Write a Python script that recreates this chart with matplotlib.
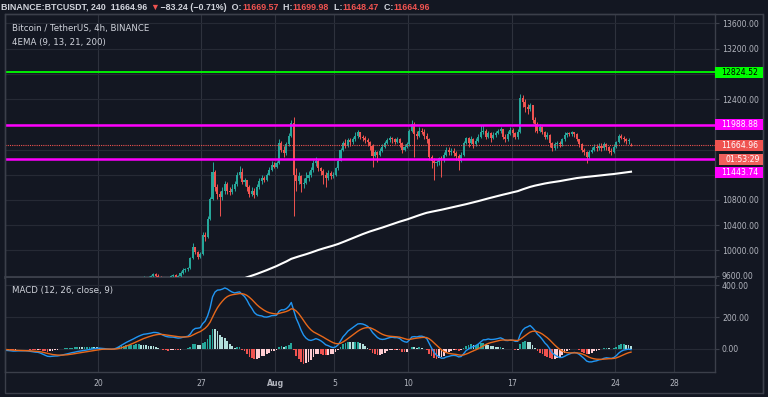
import numpy as np
import pandas as pd
import matplotlib.pyplot as plt
from matplotlib.patches import Rectangle
from matplotlib.lines import Line2D

BG = "#131722"
GRID = "#262a35"
VGRID = "#2e323d"
FRAME = "#3b3f4a"
TXT = "#b2b5be"
HEAD = "#d1d4dc"
UP = "#26a69a"
DOWN = "#ef5350"

# 4h candles, first bar starts Jul 13 00:00 (x axis = day of July, Aug 1 = 32)
first_day = 13
first_open = 9300
last_open = 11669.57

closes = [
    9290, 9270, 9260, 9250, 9240, 9250,        # Jul 13
    9240, 9230, 9250, 9260, 9250, 9250,        # Jul 14
    9240, 9230, 9210, 9200, 9190, 9200,        # Jul 15
    9150, 9100, 9080, 9060, 9100, 9130,        # Jul 16
    9120, 9110, 9130, 9140, 9150, 9150,        # Jul 17
    9160, 9170, 9160, 9180, 9170, 9170,        # Jul 18
    9180, 9190, 9200, 9210, 9200, 9210,        # Jul 19
    9200, 9180, 9170, 9160, 9170, 9160,        # Jul 20
    9200, 9250, 9300, 9340, 9360, 9390,        # Jul 21
    9400, 9430, 9460, 9500, 9520, 9540,        # Jul 22
    9560, 9540, 9570, 9590, 9630, 9600,        # Jul 23
    9580, 9540, 9520, 9530, 9560, 9590,        # Jul 24
    9610, 9580, 9590, 9640, 9690, 9700,        # Jul 25
    9720, 9880, 10050, 9970, 9900, 9940,       # Jul 26
    10250, 10220, 10500, 10820, 11250, 11000,  # Jul 27
    10900, 10850, 10950, 11050, 10950, 10930,  # Jul 28
    10980, 11050, 11200, 11250, 11080, 11110,  # Jul 29
    11000, 10900, 10950, 10880, 11000, 11100,  # Jul 30
    11150, 11120, 11200, 11280, 11350, 11330,  # Jul 31
    11380, 11700, 11600, 11550, 11680, 11820,  # Aug 1
    12020, 11200, 11100, 11180, 11050, 11070,  # Aug 2
    11150, 11200, 11280, 11380, 11420, 11300,  # Aug 3
    11260, 11200, 11150, 11220, 11180, 11200,  # Aug 4
    11300, 11420, 11600, 11700, 11660, 11750,  # Aug 5
    11720, 11760, 11820, 11870, 11800, 11780,  # Aug 6
    11750, 11720, 11650, 11500, 11560, 11520,  # Aug 7
    11580, 11640, 11700, 11750, 11780, 11760,  # Aug 8
    11720, 11760, 11700, 11600, 11640, 11680,  # Aug 9
    11900, 12000, 11850, 11820, 11900, 11880,  # Aug 10
    11820, 11760, 11480, 11420, 11380, 11400,  # Aug 11
    11460, 11430, 11520, 11600, 11560, 11580,  # Aug 12
    11550, 11500, 11420, 11520, 11700, 11780,  # Aug 13
    11700, 11760, 11680, 11740, 11800, 11880,  # Aug 14
    11900, 11800, 11860, 11780, 11830, 11860,  # Aug 15
    11890, 11920, 11800, 11760, 11850, 11910,  # Aug 16
    11860, 11800, 11880, 12420, 12350, 12280,  # Aug 17
    12240, 12300, 12060, 12000, 11900, 11960,  # Aug 18
    11880, 11800, 11830, 11700, 11620, 11680,  # Aug 19
    11700, 11680, 11760, 11830, 11860, 11850,  # Aug 20
    11870, 11840, 11760, 11680, 11600, 11560,  # Aug 21
    11480, 11560, 11600, 11640, 11620, 11660,  # Aug 22
    11620, 11680, 11640, 11580, 11560, 11640,  # Aug 23
    11720, 11810, 11790, 11770, 11730, 11748.2,  # Aug 24
    11664.96,                                  # Aug 25
]

highs = [
    9320, 9300, 9290, 9280, 9270, 9270,
    9270, 9260, 9270, 9290, 9280, 9270,
    9260, 9260, 9240, 9230, 9220, 9220,
    9210, 9160, 9120, 9100, 9120, 9150,
    9150, 9140, 9150, 9160, 9170, 9170,
    9180, 9190, 9180, 9200, 9190, 9190,
    9200, 9210, 9220, 9230, 9220, 9230,
    9220, 9210, 9190, 9180, 9190, 9180,
    9220, 9270, 9320, 9360, 9380, 9410,
    9420, 9450, 9490, 9530, 9560, 9570,
    9590, 9580, 9590, 9610, 9650, 9640,
    9620, 9600, 9560, 9560, 9580, 9610,
    9630, 9620, 9610, 9670, 9720, 9730,
    9740, 9900, 10120, 10060, 9990, 9970,
    10290, 10300, 10540, 10850, 11400, 11280,
    11050, 10950, 11000, 11100, 11080, 11000,
    11050, 11100, 11250, 11340, 11300, 11150,
    11120, 11030, 11010, 10990, 11050, 11150,
    11200, 11180, 11230, 11330, 11420, 11400,
    11420, 11760, 11740, 11650, 11720, 11860,
    12060, 12120, 11300, 11250, 11200, 11150,
    11240, 11260, 11320, 11440, 11480, 11450,
    11320, 11290, 11240, 11280, 11260, 11250,
    11320, 11450, 11620, 11730, 11760, 11790,
    11780, 11800, 11870, 11910, 11880, 11830,
    11820, 11790, 11740, 11680, 11600, 11580,
    11620, 11680, 11740, 11790, 11810, 11800,
    11780, 11800, 11780, 11720, 11680, 11720,
    11920, 12070, 12040, 11900, 11960, 11940,
    11930, 11860, 11780, 11520, 11460, 11440,
    11480, 11500, 11560, 11640, 11640, 11620,
    11620, 11580, 11530, 11560, 11740, 11800,
    11800, 11820, 11780, 11790, 11840, 11990,
    11990, 11920, 11900, 11880, 11870, 11900,
    11920, 11960, 11930, 11840, 11900, 11960,
    11940, 11880, 11920, 12480, 12460, 12400,
    12320, 12340, 12310, 12120, 12030, 12000,
    11980, 11900, 11880, 11850, 11720, 11720,
    11740, 11740, 11790, 11870, 11880, 11880,
    11900, 11880, 11860, 11770, 11700, 11630,
    11580, 11600, 11640, 11680, 11680, 11700,
    11700, 11720, 11700, 11660, 11620, 11690,
    11740, 11850, 11840, 11820, 11790, 11780,
    11699.98,
]

lows = [
    9260, 9240, 9230, 9220, 9210, 9220,
    9210, 9200, 9220, 9230, 9220, 9230,
    9220, 9200, 9190, 9170, 9170, 9180,
    9130, 9070, 9040, 9010, 9050, 9090,
    9090, 9090, 9100, 9120, 9130, 9130,
    9140, 9150, 9140, 9150, 9150, 9150,
    9160, 9170, 9180, 9190, 9180, 9190,
    9180, 9160, 9150, 9140, 9150, 9140,
    9150, 9190, 9240, 9290, 9320, 9350,
    9360, 9390, 9410, 9450, 9480, 9500,
    9520, 9510, 9530, 9550, 9580, 9570,
    9550, 9480, 9470, 9490, 9510, 9540,
    9570, 9550, 9560, 9580, 9630, 9660,
    9680, 9700, 9860, 9940, 9860, 9880,
    9930, 10150, 10200, 10480, 10800, 10950,
    10820, 10550, 10800, 10900, 10900, 10880,
    10900, 10950, 11020, 11150, 11050, 11020,
    10950, 10850, 10870, 10830, 10860, 10980,
    11060, 11080, 11100, 11190, 11260, 11300,
    11300, 11370, 11560, 11480, 11520, 11650,
    11800, 10550, 10950, 11050, 10930, 10990,
    11050, 11100, 11170, 11250, 11340, 11260,
    11200, 11050, 11000, 11120, 11130, 11150,
    11180, 11280, 11410, 11580, 11620, 11640,
    11650, 11690, 11740, 11790, 11760, 11730,
    11700, 11660, 11600, 11330, 11480, 11400,
    11500, 11560, 11620, 11680, 11720, 11700,
    11680, 11700, 11640, 11550, 11570, 11620,
    11660, 11880, 11480, 11760, 11800, 11840,
    11760, 11700, 11440, 11300, 11120, 11340,
    11360, 11160, 11400, 11500, 11520, 11520,
    11500, 11440, 11280, 11400, 11500, 11680,
    11640, 11680, 11620, 11660, 11720, 11780,
    11840, 11760, 11780, 11720, 11760, 11800,
    11840, 11860, 11760, 11720, 11740, 11830,
    11800, 11760, 11770, 11860, 12280, 12200,
    12160, 12210, 12020, 11880, 11860, 11880,
    11840, 11760, 11760, 11640, 11580, 11600,
    11620, 11640, 11660, 11740, 11800, 11810,
    11820, 11800, 11740, 11640, 11560, 11510,
    11380, 11450, 11540, 11580, 11570, 11600,
    11580, 11600, 11600, 11540, 11520, 11540,
    11620, 11700, 11760, 11720, 11690, 11690,
    11648.47,
]

ema200_seed = 9150  # 200 EMA value carried in from before Jul 13

last_price = 11664.96
levels = [12824.52, 11988.88, 11443.74]
level_colors = ["#00ff00", "#ff00ff", "#ff00ff"]
level_widths = [1.3, 1.8, 1.8]

date_ticks = [20, 27, 32, 36, 41, 48, 55, 59]
date_labels = ["20", "27", "Aug", "5", "10", "17", "24", "28"]
price_ticks = np.arange(9600, 13601, 400)
hidden_price_labels = [12800, 12000, 11600, 11200]  # covered by the tags
macd_ticks = [0, 200, 400]

# ---- derived series ----
c = np.array(closes, dtype=float)
h = np.array(highs, dtype=float)
l = np.array(lows, dtype=float)
o = np.concatenate([[first_open], c[:-1]])
o[-1] = last_open
n = len(c)
x = first_day + np.arange(n) / 6 + 1 / 12

s = pd.Series(c)
macd = s.ewm(span=12, adjust=False).mean() - s.ewm(span=26, adjust=False).mean()
signal = macd.ewm(span=9, adjust=False).mean()
hist = (macd - signal).values
ema200 = pd.Series(np.concatenate([[ema200_seed], c])).ewm(span=200, adjust=False).mean().values[1:]

hist_cols = []
for i, v in enumerate(hist):
    prev = hist[i - 1] if i > 0 else 0
    if v >= 0:
        hist_cols.append(UP if v > prev else "#b2dfdb")
    else:
        hist_cols.append("#ffcdd2" if v > prev else DOWN)

# ---- layout in pixels ----
W, H = 768, 397
fig = plt.figure(figsize=(W / 100, H / 100), dpi=100, facecolor=BG)


def px_box(x0, y0, x1, y1):
    return [x0 / W, 1 - y1 / H, (x1 - x0) / W, (y1 - y0) / H]


ax = fig.add_axes(px_box(5, 14, 715, 277))
ax2 = fig.add_axes(px_box(5, 278, 715, 372), sharex=ax)

for a in (ax, ax2):
    a.set_facecolor(BG)
    for sp in a.spines.values():
        sp.set_color(FRAME)
        sp.set_linewidth(1)
    a.yaxis.tick_right()
    a.tick_params(axis="y", colors=FRAME, labelcolor=TXT, labelsize=5.6, length=3, pad=2, direction="out")
    a.tick_params(axis="x", length=0, colors=TXT, labelsize=5.6)
    a.set_xticks(date_ticks)
    a.xaxis.grid(True, color=VGRID, lw=0.8)
    a.yaxis.grid(True, color=GRID, lw=0.8)
    a.set_axisbelow(True)

ax.spines["bottom"].set_linewidth(2)
ax2.spines["top"].set_visible(False)
ax.set_xlim(13.70, 61.77)
ax.set_ylim(9580, 13747)
ax.set_yticks(price_ticks)
ax.set_yticklabels(["" if v in hidden_price_labels else f"{v:.2f}" for v in price_ticks])
plt.setp(ax.get_xticklabels(), visible=False)

ax2.set_ylim(-144, 444)
ax2.set_yticks(macd_ticks)
ax2.set_yticklabels([f"{v:.2f}" for v in macd_ticks])
ax2.set_xticklabels(date_labels)
ax2.tick_params(axis="x", pad=5)
for t in ax2.get_xticklabels():
    if t.get_text() == "Aug":
        t.set_fontweight("bold")

# ---- candles ----
cols = np.where(c >= o, UP, DOWN)
ax.vlines(x, l, h, colors=cols, lw=0.7, zorder=3)
body = np.maximum(np.abs(c - o), 10)
ax.bar(x, body, bottom=np.minimum(o, c), width=0.14, color=cols, lw=0, zorder=3)

ax.plot(x, ema200, color="white", lw=1.5, zorder=4)

for lv, lc, lw in zip(levels, level_colors, level_widths):
    ax.axhline(lv, color=lc, lw=lw, zorder=5)
ax.axhline(last_price, color=DOWN, lw=0.8, ls=(0, (1, 1)), zorder=5)

# ---- MACD ----
ax2.bar(x, hist, width=0.12, color=hist_cols, lw=0, zorder=3)
ax2.plot(x, macd, color="#2196f3", lw=1.0, zorder=4)
ax2.plot(x, signal, color="#e8681a", lw=1.0, zorder=4)

# outer frame
fig.add_artist(Rectangle((5 / W, 1 - 393 / H), 758 / W, 379 / H, transform=fig.transFigure,
                         fill=False, ec=FRAME, lw=1))
fig.add_artist(Line2D([763 / W, 763 / W], [1 - 393 / H, 1 - 14 / H], transform=fig.transFigure, color=FRAME, lw=1))


# ---- price axis tags ----
def axis_tag(value, face, fg, text=None, dy=0, x0=715):
    _, yd = ax.transData.transform((0, value))
    yc = yd - dy
    fig.add_artist(Rectangle((x0 / W, (yc - 5.5) / H), (763 - x0) / W, 11 / H, transform=fig.transFigure,
                             fc=face, ec="none", zorder=5))
    fig.text((x0 + 6) / W, yc / H, text or f"{value:.2f}", color=fg, fontsize=5.6, va="center", ha="left", zorder=6)


axis_tag(levels[0], level_colors[0], "black")
axis_tag(levels[1], level_colors[1], "white")
axis_tag(last_price, DOWN, "white")
axis_tag(last_price, "#f0605c", "white", text="01:53:29", dy=14, x0=719)
axis_tag(levels[2], level_colors[2], "white", dy=13)

# ---- texts ----
fig.text(12 / W, 1 - 28 / H, "Bitcoin / TetherUS, 4h, BINANCE", color=HEAD, fontsize=6.2, va="center")
fig.text(12 / W, 1 - 43 / H, "4EMA (9, 13, 21, 200)", color=HEAD, fontsize=6.2, va="center")
fig.text(12 / W, 1 - 290 / H, "MACD (12, 26, close, 9)", color=HEAD, fontsize=6.2, va="center")

head_font = ["Liberation Sans", "DejaVu Sans"]
pieces = [("BINANCE:BTCUSDT, 240  11664.96 ", HEAD), ("\u25bc", DOWN), (" \u221283.24 (\u22120.71%)  O:", HEAD),
          ("11669.57", DOWN), ("  H:", HEAD), ("11699.98", DOWN), ("  L:", HEAD), ("11648.47", DOWN),
          ("  C:", HEAD), ("11664.96", DOWN)]
t = fig.text(1 / W, 1 - 7 / H, pieces[0][0], color=pieces[0][1], fontsize=6.4, va="center",
             fontweight="bold", family=head_font)
for txt, col in pieces[1:]:
    t = ax.annotate(txt, xy=(1, 0), xycoords=t, va="bottom", ha="left", color=col, fontsize=6.4,
                    fontweight="bold", family=head_font, annotation_clip=False)

fig.savefig("out.png", dpi=100, facecolor=BG)
